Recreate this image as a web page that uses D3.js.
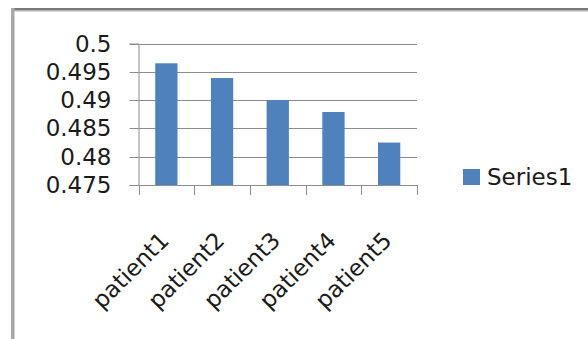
<!DOCTYPE html>
<html><head><meta charset="utf-8">
<script src="https://cdn.jsdelivr.net/npm/d3@7"></script>
<style>body{margin:0;background:#fff}svg{display:block}text{font-family:"DejaVu Sans",sans-serif;fill:#1a1a1a}</style>
</head><body>
<script>
const categories = ["patient1","patient2","patient3","patient4","patient5"];
const seriesName = "Series1";
const values = [0.4965, 0.4939, 0.4900, 0.4879, 0.4825];
const yTicks = [0.475, 0.48, 0.485, 0.49, 0.495, 0.5];
const yTickLabels = ["0.475","0.48","0.485","0.49","0.495","0.5"];

(function () {
const W = 588, H = 339;
const svg = d3.select("body").append("svg").attr("width", W).attr("height", H);

// frame
svg.append("rect").attr("x", 11).attr("y", 8).attr("width", W - 11).attr("height", 2).attr("fill", "#7a7a7a");
svg.append("rect").attr("x", 11).attr("y", 10).attr("width", W - 11).attr("height", 1.5).attr("fill", "#b4b4b4");
svg.append("rect").attr("x", 11).attr("y", 8).attr("width", 3.5).attr("height", H - 8).attr("fill", "#a8a8a8");

const pLeft = 138.5, pRight = 417, pTop = 43.5, pBottom = 185;
const y = d3.scaleLinear().domain([0.475, 0.5]).range([pBottom, pTop]);
const xCat = d3.scaleBand().domain(categories).range([pLeft, pRight]).padding(0);
const xBar = d3.scaleBand().domain(categories).range([pLeft, pRight]).paddingInner(0.6).paddingOuter(0.3);

// gridlines
svg.append("g").selectAll("line").data(yTicks.slice(1)).join("line")
  .attr("x1", pLeft).attr("x2", pRight)
  .attr("y1", d => Math.round(y(d)) + 0.5).attr("y2", d => Math.round(y(d)) + 0.5)
  .attr("stroke", "#8c8c8c").attr("stroke-width", 1);

// y axis
const yAxis = svg.append("g").attr("transform", `translate(${pLeft},0)`)
  .call(d3.axisLeft(y).tickValues(yTicks).tickSize(9).tickPadding(18)
    .tickFormat((d, i) => yTickLabels[i]));
yAxis.select(".domain").attr("stroke", "#8c8c8c");
yAxis.selectAll(".tick line").attr("stroke", "#8c8c8c");
yAxis.selectAll(".tick text").attr("font-size", 23).attr("fill", "#1a1a1a")
  .attr("font-family", '"DejaVu Sans", sans-serif');
yAxis.selectAll(".tick").attr("transform", d => `translate(0,${Math.round(y(d)) + 0.5})`);

// bars
svg.append("g").selectAll("rect").data(values).join("rect")
  .attr("x", (d, i) => xBar(categories[i]))
  .attr("width", xBar.bandwidth())
  .attr("y", d => y(d))
  .attr("height", d => pBottom - y(d))
  .attr("fill", "#4F81BD");

// x axis line and ticks
const bounds = categories.map(c => xCat(c)).concat([pRight]);
svg.append("line").attr("x1", pLeft).attr("x2", pRight).attr("y1", pBottom + 0.5).attr("y2", pBottom + 0.5)
  .attr("stroke", "#8c8c8c");
svg.append("g").selectAll("line").data(bounds).join("line")
  .attr("x1", d => Math.round(d) + 0.5).attr("x2", d => Math.round(d) + 0.5)
  .attr("y1", pBottom).attr("y2", pBottom + 10)
  .attr("stroke", "#8c8c8c");

// x labels rotated
svg.append("g").selectAll("text").data(categories).join("text")
  .attr("transform", d => `translate(${xCat(d) + xCat.bandwidth() / 2 - 8},${230}) rotate(-45)`)
  .attr("text-anchor", "end")
  .attr("dy", "0.73em")
  .attr("font-size", 23)
  .text(d => d);

// legend
const lg = svg.append("g").attr("transform", "translate(463,169)");
lg.append("rect").attr("width", 17).attr("height", 16).attr("fill", "#4F81BD");
lg.append("text").attr("x", 24).attr("y", 16).attr("font-size", 23).text(seriesName);
})();
</script>
</body></html>
